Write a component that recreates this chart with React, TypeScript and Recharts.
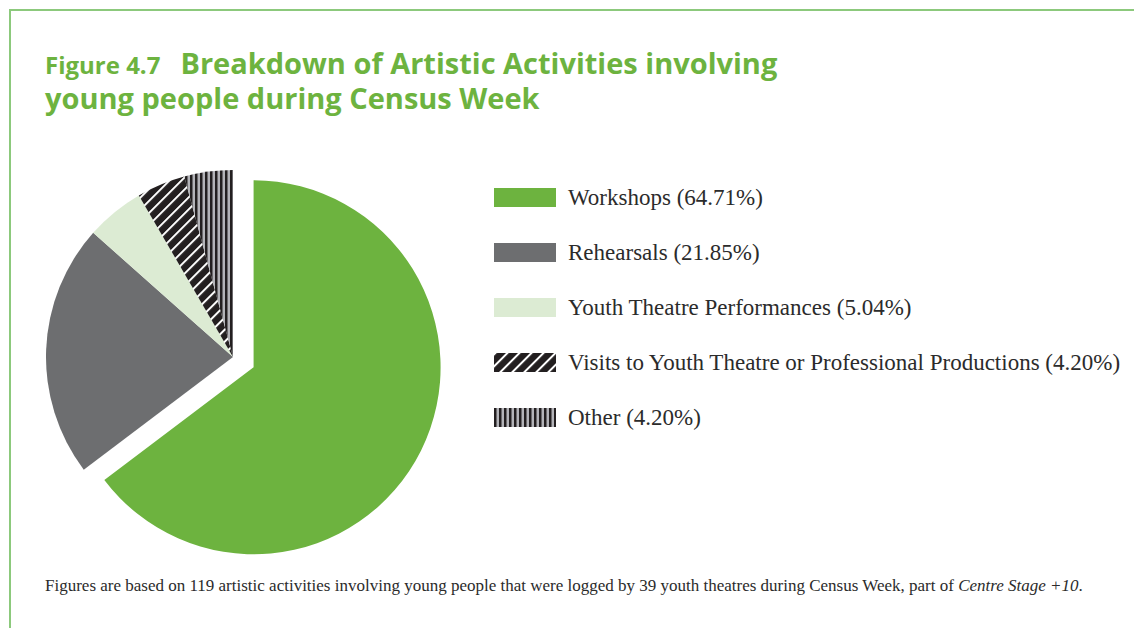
import { PieChart, Pie, Cell, Sector, Legend } from "recharts"

const categories = [
  "Workshops",
  "Rehearsals",
  "Youth Theatre Performances",
  "Visits to Youth Theatre or Professional Productions",
  "Other",
]
const shares = [64.71, 21.85, 5.04, 4.2, 4.2]
const fills = ["#6db33f", "#6d6e70", "#dcebd3", "url(#hatchDiag)", "url(#hatchVert)"]

const data = categories.map((name, i) => ({ name, value: shares[i] }))

const RAD = Math.PI / 180
const EXPLODE = 23

// pull the first slice (Workshops) out along its mid angle
const renderSlice = (props: any) => {
  const isFirst = props.payload?.name === categories[0] || props.name === categories[0]
  const dx = isFirst ? EXPLODE * Math.cos(-props.midAngle * RAD) : 0
  const dy = isFirst ? EXPLODE * Math.sin(-props.midAngle * RAD) : 0
  return <Sector {...props} cx={props.cx + dx} cy={props.cy + dy} />
}

const Swatch = ({ fill }: { fill: string }) => (
  <svg width={62} height={19} style={{ display: "block" }}>
    <rect x={0} y={0} width={62} height={19} fill={fill} />
  </svg>
)

const renderLegend = () => (
  <div>
    {categories.map((name, i) => (
      <div
        key={name}
        style={{ display: "flex", alignItems: "center", height: 55, whiteSpace: "nowrap" }}
      >
        <Swatch fill={fills[i]} />
        <span
          style={{
            marginLeft: 12,
            fontFamily: "'Liberation Serif', serif",
            fontSize: 23,
            color: "#2b2b2b",
          }}
        >
          {name} ({shares[i].toFixed(2)}%)
        </span>
      </div>
    ))}
  </div>
)

export default function App() {
  return (
    <div
      style={{
        position: "absolute",
        top: 0,
        left: 0,
        width: 1134,
        height: 628,
        background: "#fff",
        overflow: "hidden",
      }}
    >
      <div
        style={{
          position: "absolute",
          left: 9,
          top: 9,
          width: 1134,
          height: 640,
          borderTop: "2px solid #8cc97c",
          borderLeft: "2px solid #8cc97c",
        }}
      />
      <div
        style={{
          position: "absolute",
          left: 45,
          top: 46,
          fontFamily: "'Open Sans', sans-serif",
          fontWeight: 700,
          color: "#6db33f",
          lineHeight: "33px",
          fontSize: 29,
        }}
      >
        <span style={{ fontSize: 24, marginRight: 20 }}>Figure 4.7</span>
        Breakdown of Artistic Activities involving
        <br />
        young people during Census Week
      </div>
      <div style={{ position: "absolute", left: 0, top: 0 }}>
        <PieChart width={1134} height={628} margin={{ top: 0, right: 0, bottom: 0, left: 0 }}>
          <defs>
            <pattern id="hatchDiag" patternUnits="userSpaceOnUse" width={8.5} height={8.5} patternTransform="rotate(45)">
              <rect x={0} y={0} width={8.5} height={8.5} fill="#231f20" />
              <rect x={0} y={0} width={2} height={8.5} fill="#ffffff" />
            </pattern>
            <pattern id="hatchVert" patternUnits="userSpaceOnUse" width={5} height={5}>
              <rect x={0} y={0} width={5} height={5} fill="#b3b3b8" />
              <rect x={0} y={0} width={2.5} height={5} fill="#231f20" />
            </pattern>
          </defs>
          <Pie
            data={data}
            dataKey="value"
            nameKey="name"
            cx={233}
            cy={357}
            outerRadius={187}
            startAngle={90}
            endAngle={-270}
            stroke="none"
            shape={renderSlice}
            isAnimationActive={false}
          >
            {data.map((d, i) => (
              <Cell key={d.name} fill={fills[i]} />
            ))}
          </Pie>
          <Legend
            content={renderLegend}
            layout="vertical"
            align="right"
            verticalAlign="top"
            wrapperStyle={{ left: 494, top: 170, width: 640 }}
          />
        </PieChart>
      </div>
      <div
        style={{
          position: "absolute",
          left: 45,
          top: 576,
          fontFamily: "'Liberation Serif', serif",
          fontSize: 17,
          color: "#2b2b2b",
          whiteSpace: "nowrap",
        }}
      >
        Figures are based on 119 artistic activities involving young people that were logged by 39 youth theatres
        during Census Week, part of <i>Centre Stage +10</i>.
      </div>
    </div>
  )
}
